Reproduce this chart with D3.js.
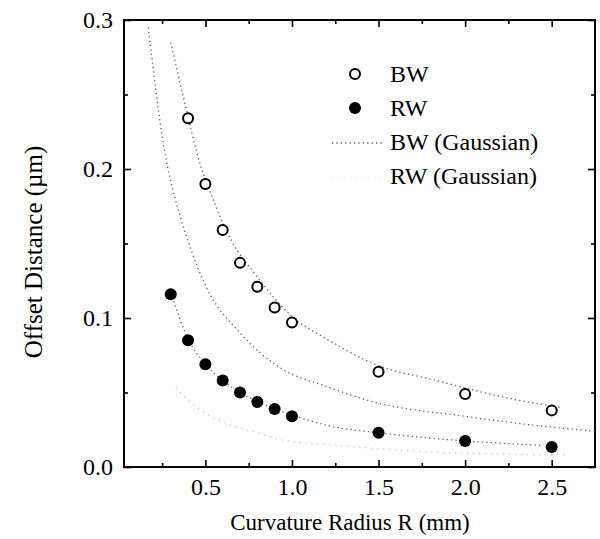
<!DOCTYPE html>
<html>
<head>
<meta charset="utf-8">
<script src="https://cdn.jsdelivr.net/npm/d3@7"></script>
<style>
  body { margin: 0; background: #fff; }
  text { font-family: "Liberation Serif", "Times New Roman", serif; fill: #000; }
</style>
</head>
<body>
<div id="graphic"></div>
<script>
// Data
var radiusBW = [0.4, 0.5, 0.6, 0.7, 0.8, 0.9, 1.0, 1.5, 2.0, 2.5];
var offsetBW = [0.234, 0.190, 0.159, 0.137, 0.121, 0.107, 0.097, 0.064, 0.049, 0.038];

var radiusRW = [0.3, 0.4, 0.5, 0.6, 0.7, 0.8, 0.9, 1.0, 1.5, 2.0, 2.5];
var offsetRW = [0.116, 0.085, 0.069, 0.058, 0.050, 0.0436, 0.039, 0.034, 0.023, 0.0175, 0.0134];

// Gaussian model curves
var gaussBWx = [0.17, 0.26, 0.35, 0.42, 0.5, 0.7, 0.94, 1.2, 1.46, 2.0, 2.4, 2.75];
var gaussBWy = [0.295, 0.215, 0.170, 0.145, 0.122, 0.090, 0.066, 0.054, 0.044, 0.034, 0.028, 0.024];

var gaussRWx = [0.33, 0.45, 0.65, 0.8, 0.95, 1.2, 1.45, 1.8, 2.2, 2.6];
var gaussRWy = [0.053, 0.040, 0.028, 0.023, 0.018, 0.015, 0.0128, 0.010, 0.0087, 0.008];

// Fit lines running through the measured points
var fitBWx = [0.3, 0.4, 0.45, 0.54, 0.65, 0.79, 1.0, 1.2, 1.5, 1.8, 2.3, 2.55];
var fitBWy = [0.285, 0.235, 0.211, 0.181, 0.152, 0.129, 0.101, 0.086, 0.068, 0.059, 0.045, 0.040];

var fitRWx = [0.3, 0.4, 0.5, 0.6, 0.7, 0.8, 1.0, 1.22, 1.5, 2.0, 2.45];
var fitRWy = [0.117, 0.086, 0.069, 0.058, 0.050, 0.044, 0.035, 0.0275, 0.023, 0.0175, 0.0145];

// Ticks
var xMajorTicks = [0.5, 1.0, 1.5, 2.0, 2.5];
var xMinorTicks = [0.25, 0.75, 1.25, 1.75, 2.25];
var yMajorTicks = [0.0, 0.1, 0.2, 0.3];
var yMinorTicks = [0.05, 0.15, 0.25];

var legendLabels = ['BW', 'RW', 'BW (Gaussian)', 'RW (Gaussian)'];

/*
 * Render the graphic.
 */
var render = function () {
  var width = 600;
  var height = 539;

  var margins = {
    top: 20,
    right: 5,
    bottom: 72,
    left: 124
  };

  var svg = d3.select('#graphic')
    .append('svg')
    .attr('width', width)
    .attr('height', height);

  var x = d3.scaleLinear()
    .domain([0.03, 2.75])
    .range([margins.left, width - margins.right]);

  var y = d3.scaleLinear()
    .domain([0, 0.3])
    .range([height - margins.bottom, margins.top]);

  var fmt = d3.format('.1f');

  // Axes, ticks point inward
  var addAxis = function (axis, transform, labels) {
    var g = svg.append('g')
      .attr('transform', transform)
      .call(axis);
    g.select('.domain').remove();
    g.selectAll('line').attr('stroke', '#000').attr('stroke-width', 1.6);
    if (labels) {
      g.selectAll('text')
        .style('font-size', '24px')
        .style('font-family', '"Liberation Serif", serif');
    } else {
      g.selectAll('text').remove();
    }
    return g;
  };

  var bottomY = y(0);
  var topY = y(0.3);
  var leftX = x.range()[0];
  var rightX = x.range()[1];

  addAxis(d3.axisBottom(x).tickValues(xMajorTicks).tickSize(-7).tickPadding(11).tickFormat(fmt),
    'translate(0,' + bottomY + ')', true);
  addAxis(d3.axisBottom(x).tickValues(xMinorTicks).tickSize(-4).tickFormat(''),
    'translate(0,' + bottomY + ')', false);
  addAxis(d3.axisTop(x).tickValues(xMajorTicks).tickSize(-7).tickFormat(''),
    'translate(0,' + topY + ')', false);
  addAxis(d3.axisTop(x).tickValues(xMinorTicks).tickSize(-4).tickFormat(''),
    'translate(0,' + topY + ')', false);

  addAxis(d3.axisLeft(y).tickValues(yMajorTicks).tickSize(-7).tickPadding(11).tickFormat(fmt),
    'translate(' + leftX + ',0)', true);
  addAxis(d3.axisLeft(y).tickValues(yMinorTicks).tickSize(-4).tickFormat(''),
    'translate(' + leftX + ',0)', false);
  addAxis(d3.axisRight(y).tickValues(yMajorTicks).tickSize(-7).tickFormat(''),
    'translate(' + rightX + ',0)', false);
  addAxis(d3.axisRight(y).tickValues(yMinorTicks).tickSize(-4).tickFormat(''),
    'translate(' + rightX + ',0)', false);

  // Frame
  svg.append('rect')
    .attr('x', leftX)
    .attr('y', topY)
    .attr('width', rightX - leftX)
    .attr('height', bottomY - topY)
    .attr('fill', 'none')
    .attr('stroke', '#000')
    .attr('stroke-width', 2);

  // Curves
  var line = d3.line()
    .x(function (d) { return x(d[0]); })
    .y(function (d) { return y(d[1]); })
    .curve(d3.curveMonotoneX);

  var curves = [
    { xs: fitBWx, ys: fitBWy, stroke: '#666', dash: '1.4,3', w: 1.3 },
    { xs: fitRWx, ys: fitRWy, stroke: '#666', dash: '1.4,3', w: 1.3 },
    { xs: gaussBWx, ys: gaussBWy, stroke: '#555', dash: '1.2,3.2', w: 1.3 },
    { xs: gaussRWx, ys: gaussRWy, stroke: '#b0b0b0', dash: '1,5', w: 1.2 }
  ];

  curves.forEach(function (c) {
    svg.append('path')
      .datum(d3.zip(c.xs, c.ys))
      .attr('d', line)
      .attr('fill', 'none')
      .attr('stroke', c.stroke)
      .attr('stroke-width', c.w)
      .attr('stroke-dasharray', c.dash);
  });

  // Points
  svg.append('g').selectAll('circle')
    .data(d3.zip(radiusBW, offsetBW))
    .enter().append('circle')
    .attr('cx', function (d) { return x(d[0]); })
    .attr('cy', function (d) { return y(d[1]); })
    .attr('r', 5)
    .attr('fill', '#fff')
    .attr('stroke', '#000')
    .attr('stroke-width', 2);

  svg.append('g').selectAll('circle')
    .data(d3.zip(radiusRW, offsetRW))
    .enter().append('circle')
    .attr('cx', function (d) { return x(d[0]); })
    .attr('cy', function (d) { return y(d[1]); })
    .attr('r', 6)
    .attr('fill', '#000');

  // Legend
  var legend = svg.append('g').attr('transform', 'translate(355,74)');
  var rowH = 34;

  legend.append('circle').attr('cx', 0).attr('cy', 0).attr('r', 5)
    .attr('fill', '#fff').attr('stroke', '#000').attr('stroke-width', 2);
  legend.append('circle').attr('cx', 0).attr('cy', rowH).attr('r', 6)
    .attr('fill', '#000');
  legend.append('line').attr('x1', -23).attr('x2', 28)
    .attr('y1', rowH * 2 + 1).attr('y2', rowH * 2 + 1)
    .attr('stroke', '#555').attr('stroke-width', 1.3).attr('stroke-dasharray', '1.2,3.2');
  legend.append('line').attr('x1', -23).attr('x2', 28)
    .attr('y1', rowH * 3 + 1).attr('y2', rowH * 3 + 1)
    .attr('stroke', '#e0e0e0').attr('stroke-width', 1).attr('stroke-dasharray', '1,5');

  legend.selectAll('text.lbl')
    .data(legendLabels)
    .enter().append('text')
    .attr('class', 'lbl')
    .attr('x', 35)
    .attr('y', function (d, i) { return i * rowH + 8; })
    .style('font-size', '24px')
    .text(function (d) { return d; });

  // Axis titles
  svg.append('text')
    .attr('x', 350)
    .attr('y', 530)
    .attr('text-anchor', 'middle')
    .style('font-size', '23px')
    .text('Curvature Radius R (mm)');

  svg.append('text')
    .attr('transform', 'translate(42,252) rotate(-90)')
    .attr('text-anchor', 'middle')
    .style('font-size', '25px')
    .text('Offset Distance (\u00b5m)');
};

window.onload = render;
</script>
</body>
</html>
